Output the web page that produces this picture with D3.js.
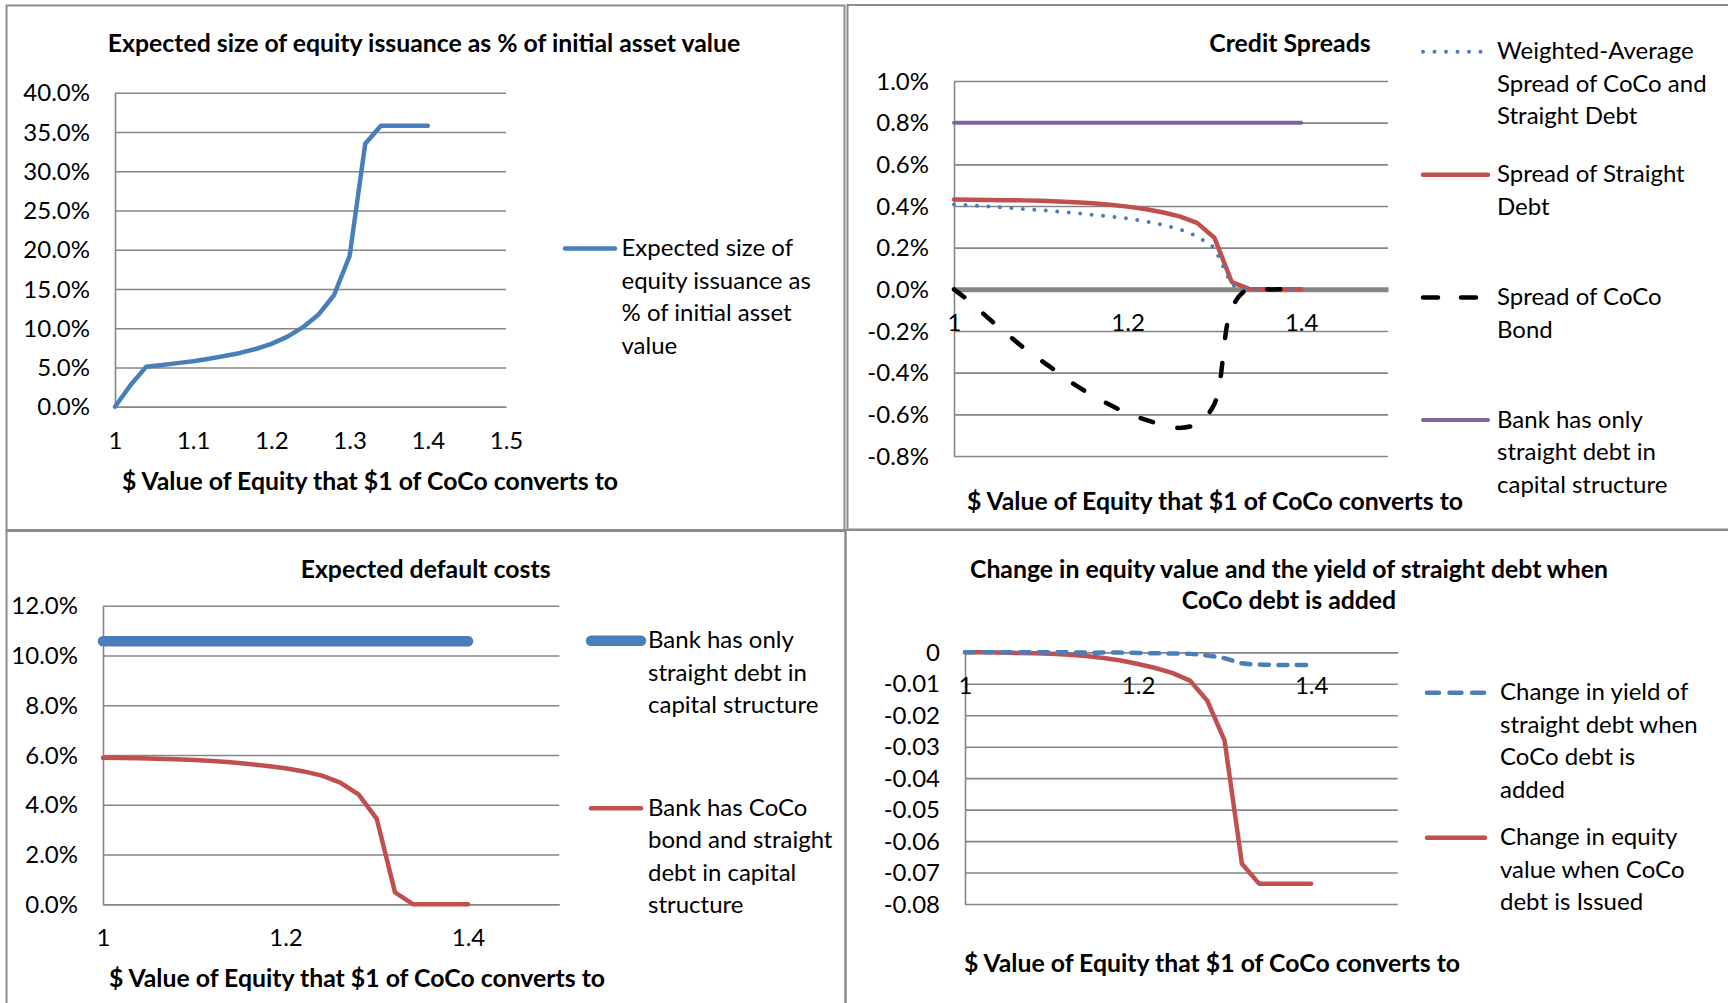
<!DOCTYPE html>
<html>
<head>
<meta charset="utf-8">
<script src="https://cdn.jsdelivr.net/npm/d3@7"></script>
<style>
  body { margin: 0; background: #fff; }
  svg text { font-family: Lato, "Open Sans", sans-serif; font-size: 24px; fill: #000; }
  .title, .axis-title { font-weight: bold; font-size: 24.8px; }
</style>
</head>
<body>
<div id="chart"></div>
<script>
// $ value of equity that $1 of CoCo converts to (shared x values)
var conversionValue = [1.00, 1.02, 1.04, 1.06, 1.08, 1.10, 1.12, 1.14, 1.16, 1.18, 1.20,
                       1.22, 1.24, 1.26, 1.28, 1.30, 1.32, 1.34, 1.36, 1.38, 1.40];

// panel 1: expected equity issuance, % of initial asset value
var equityIssuance = [0, 2.76, 5.1, 5.3, 5.55, 5.8, 6.1, 6.45, 6.85, 7.35, 8.0,
                      8.9, 10.1, 11.7, 14.2, 19.2, 33.5, 35.8, 35.8, 35.8, 35.8];

// panel 2: credit spreads, %
var weightedAvgSpread = [0.407, 0.403, 0.398, 0.392, 0.386, 0.380, 0.373, 0.366, 0.358, 0.350, 0.340,
                         0.327, 0.310, 0.288, 0.255, 0.200, 0.020, 0, 0, 0, 0];
var straightDebtSpread = [0.431, 0.430, 0.429, 0.428, 0.427, 0.425, 0.422, 0.418, 0.413, 0.406, 0.397,
                          0.386, 0.370, 0.350, 0.319, 0.248, 0.035, 0.002, 0, 0, 0];
var cocoSpread = [0, -0.065, -0.14, -0.21, -0.28, -0.34, -0.40, -0.46, -0.51, -0.555, -0.595,
                  -0.625, -0.65, -0.665, -0.645, -0.55, -0.09, 0.005, 0, 0, 0];
var straightOnlySpread = [0.8, 0.8, 0.8, 0.8, 0.8, 0.8, 0.8, 0.8, 0.8, 0.8, 0.8,
                          0.8, 0.8, 0.8, 0.8, 0.8, 0.8, 0.8, 0.8, 0.8, 0.8];

// panel 3: expected default costs, %
var straightOnlyDefault = [10.57, 10.57, 10.57, 10.57, 10.57, 10.57, 10.57, 10.57, 10.57, 10.57, 10.57,
                           10.57, 10.57, 10.57, 10.57, 10.57, 10.57, 10.57, 10.57, 10.57, 10.57];
var cocoDefault = [5.89, 5.88, 5.87, 5.85, 5.83, 5.80, 5.76, 5.71, 5.64, 5.56, 5.47,
                   5.34, 5.17, 4.89, 4.42, 3.43, 0.48, 0, 0, 0, 0];

// panel 4: change in yield / equity value
var yieldChange = [0, 0, 0, 0, 0, 0, 0, -0.0001, -0.0001, -0.0001, -0.0002,
                   -0.0003, -0.0004, -0.0005, -0.0010, -0.0019, -0.0035, -0.0039, -0.0040, -0.0040, -0.0040];
var equityChange = [0, 0, -0.0001, -0.0002, -0.0003, -0.0005, -0.0008, -0.0012, -0.0018, -0.0026, -0.0037,
                    -0.0050, -0.0066, -0.0090, -0.0154, -0.0281, -0.0672, -0.0736, -0.0736, -0.0736, -0.0736];

// tick labels
var ticksX1 = [1, 1.1, 1.2, 1.3, 1.4, 1.5];
var ticksX2 = [1, 1.2, 1.4];
var ticksY1 = [0, 5, 10, 15, 20, 25, 30, 35, 40];
var ticksY2 = [-0.8, -0.6, -0.4, -0.2, 0, 0.2, 0.4, 0.6, 0.8, 1.0];
var ticksY3 = [0, 2, 4, 6, 8, 10, 12];
var ticksY4 = [-0.08, -0.07, -0.06, -0.05, -0.04, -0.03, -0.02, -0.01, 0];

var xAxisTitle = "$ Value of Equity that $1 of CoCo converts to";

var BLUE = "#4a7ebb", RED = "#c0504d", PURPLE = "#8064a2", GRID = "#868686";

var width = 1728,
    height = 1003;

var svg = d3.select("#chart")
    .append("svg")
    .attr("width", width)
    .attr("height", height);

// panel frames
[[6.5, 5.5, 844.5, 530], [847.5, 5, 1740, 529.5], [6.5, 531, 845.5, 1012], [845.5, 530, 1740, 1012]]
  .forEach(function(f) {
    svg.append("rect")
        .attr("x", f[0]).attr("y", f[1])
        .attr("width", f[2] - f[0]).attr("height", f[3] - f[1])
        .attr("fill", "none")
        .attr("stroke", "#8c8c8c")
        .attr("stroke-width", 2);
  });

var pctFmt = function(d) { return d.toFixed(1) + "%"; };

function drawPanel(p) {
  var g = svg.append("g");

  var x = d3.scaleLinear().domain([1, 1.5]).range([p.left, p.right]);
  var y = d3.scaleLinear().domain(p.yDomain).range([p.bottom, p.top]);

  // gridlines + y labels
  var ya = g.append("g")
      .attr("transform", "translate(" + p.left + ",0)")
      .call(d3.axisLeft(y)
          .tickValues(p.yTicks)
          .tickFormat(p.yFormat)
          .tickSize(-(p.right - p.left))
          .tickSizeOuter(0)
          .tickPadding(25));
  ya.selectAll(".tick line").attr("stroke", GRID).attr("stroke-width", 1.6);
  ya.select(".domain").attr("stroke", GRID).attr("stroke-width", 1.6);
  ya.selectAll("text").attr("font-size", null).attr("font-family", null).attr("dy", "0.34em");

  // x labels next to the zero line
  var xa = g.append("g")
      .attr("transform", "translate(0," + y(0) + ")")
      .call(d3.axisBottom(x)
          .tickValues(p.xTicks)
          .tickFormat(d3.format("~g"))
          .tickSize(0)
          .tickSizeOuter(0)
          .tickPadding(25));
  xa.select(".domain").attr("stroke", GRID).attr("stroke-width", p.zeroWidth || 1.6);
  xa.selectAll("text").attr("font-size", null).attr("font-family", null);

  // series
  p.series.forEach(function(s) {
    var line = d3.line()
        .x(function(d) { return x(d[0]); })
        .y(function(d) { return y(d[1]); })
        .curve(s.smooth ? d3.curveCatmullRom : d3.curveLinear);
    g.append("path")
        .datum(conversionValue.map(function(v, i) { return [v, s.values[i]]; }))
        .attr("d", line)
        .attr("fill", "none")
        .attr("stroke", s.color)
        .attr("stroke-width", s.width)
        .attr("stroke-dasharray", s.dash || null)
        .attr("stroke-linecap", "round")
        .attr("stroke-linejoin", "round");
  });

  // legend
  p.series.forEach(function(s) {
    var L = s.legend;
    g.append("line")
        .attr("x1", p.legendX0).attr("x2", p.legendX1)
        .attr("y1", L.y).attr("y2", L.y)
        .attr("stroke", s.color)
        .attr("stroke-width", s.width)
        .attr("stroke-dasharray", L.dash || s.dash || null)
        .attr("stroke-linecap", "round");
    var t = g.append("text").attr("x", p.legendText).attr("y", L.y + 7.5);
    L.lines.forEach(function(txt, i) {
      t.append("tspan")
          .attr("x", p.legendText)
          .attr("dy", i === 0 ? 0 : p.legendStep)
          .text(txt);
    });
  });

  // titles
  var tt = g.append("text").attr("class", "title").attr("text-anchor", "middle");
  p.title.forEach(function(txt, i) {
    tt.append("tspan")
        .attr("x", p.titleX)
        .attr("y", p.titleY + i * 31.6)
        .text(txt);
  });

  g.append("text")
      .attr("class", "axis-title")
      .attr("text-anchor", "middle")
      .attr("x", p.axisTitleX)
      .attr("y", p.axisTitleY)
      .text(xAxisTitle);
}

drawPanel({
  left: 115, right: 506, top: 92.7, bottom: 406.7,
  yDomain: [0, 40], yTicks: ticksY1, yFormat: pctFmt, xTicks: ticksX1,
  title: ["Expected size of equity issuance as % of initial asset value"], titleX: 424, titleY: 52,
  axisTitleX: 370, axisTitleY: 490,
  legendX0: 565, legendX1: 615, legendText: 621.5, legendStep: 32.7,
  series: [
    {values: equityIssuance, color: BLUE, width: 4.5,
     legend: {y: 248.5, lines: ["Expected size of", "equity issuance as", "% of initial asset", "value"]}}
  ]
});

drawPanel({
  left: 954, right: 1388, top: 81, bottom: 456,
  yDomain: [-0.8, 1.0], yTicks: ticksY2, yFormat: pctFmt, xTicks: ticksX2, zeroWidth: 5,
  title: ["Credit Spreads"], titleX: 1290, titleY: 52,
  axisTitleX: 1215, axisTitleY: 510,
  legendX0: 1423, legendX1: 1488, legendText: 1497, legendStep: 32.5,
  series: [
    {values: straightOnlySpread, color: PURPLE, width: 4,
     legend: {y: 420, lines: ["Bank has only", "straight debt in", "capital structure"]}},
    {values: straightDebtSpread, color: RED, width: 4.5,
     legend: {y: 174.8, lines: ["Spread of Straight", "Debt"]}},
    {values: weightedAvgSpread, color: BLUE, width: 4, dash: "0 11.5",
     legend: {y: 51.7, lines: ["Weighted-Average", "Spread of CoCo and", "Straight Debt"]}},
    {values: cocoSpread, color: "#000", width: 4.5, dash: "13 25", smooth: true,
     legend: {y: 297.5, dash: "15 23", lines: ["Spread of CoCo", "Bond"]}}
  ]
});

drawPanel({
  left: 103, right: 559.3, top: 605.7, bottom: 904.3,
  yDomain: [0, 12], yTicks: ticksY3, yFormat: pctFmt, xTicks: ticksX2,
  title: ["Expected default costs"], titleX: 425.6, titleY: 577.5,
  axisTitleX: 357, axisTitleY: 987,
  legendX0: 591, legendX1: 641, legendText: 648, legendStep: 32.5,
  series: [
    {values: straightOnlyDefault, color: BLUE, width: 10.5,
     legend: {y: 640.7, lines: ["Bank has only", "straight debt in", "capital structure"]}},
    {values: cocoDefault, color: RED, width: 4.5,
     legend: {y: 808.3, lines: ["Bank has CoCo", "bond and straight", "debt in capital", "structure"]}}
  ]
});

drawPanel({
  left: 965, right: 1397.7, top: 652.3, bottom: 904,
  yDomain: [-0.08, 0], yTicks: ticksY4,
  yFormat: function(d) { return d === 0 ? "0" : d.toFixed(2); }, xTicks: ticksX2,
  title: ["Change in equity value and the yield of straight debt when", "CoCo debt is added"],
  titleX: 1289, titleY: 577.5,
  axisTitleX: 1212, axisTitleY: 971.5,
  legendX0: 1427, legendX1: 1485, legendText: 1500, legendStep: 32.6,
  series: [
    {values: equityChange, color: RED, width: 4.5,
     legend: {y: 837.7, lines: ["Change in equity", "value when CoCo", "debt is Issued"]}},
    {values: yieldChange, color: BLUE, width: 4.5, dash: "9 9.5", smooth: true,
     legend: {y: 692.7, dash: "12 10.5", lines: ["Change in yield of", "straight debt when", "CoCo debt is", "added"]}}
  ]
});
</script>
</body>
</html>
